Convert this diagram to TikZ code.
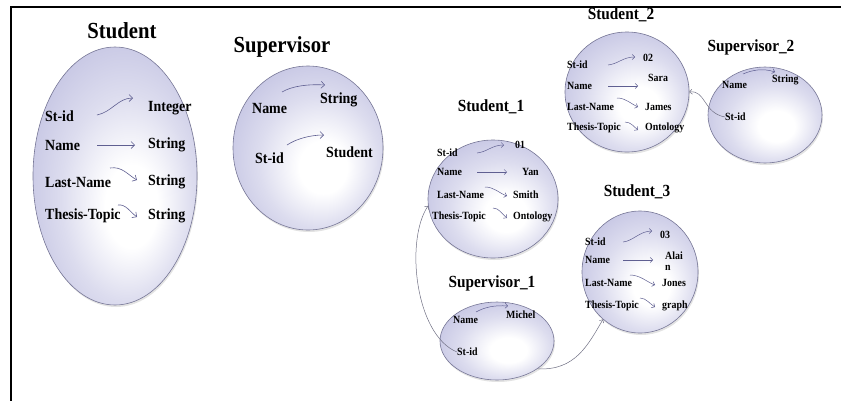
\documentclass[tikz,border=0pt]{standalone}
\usepackage{fontspec}
\setmainfont{Liberation Serif}[FakeStretch=0.9]
\usetikzlibrary{shapes.geometric,arrows.meta,shadows}
\definecolor{ellfill}{RGB}{186,186,222}
\definecolor{ellline}{RGB}{118,118,150}
\definecolor{arrcol}{RGB}{95,95,145}
\definecolor{linkcol}{RGB}{110,110,130}
\pgfdeclareradialshading{entshade}{\pgfpoint{6bp}{-7bp}}{%
  color(0bp)=(white); color(8bp)=(white); color(20bp)=(white!50!ellfill);
  color(36bp)=(ellfill); color(50bp)=(ellfill)}
\begin{document}
\begin{tikzpicture}[x=1pt,y=-1pt,
 ent/.style={ellipse, draw=ellline, line width=0.6pt, shading=entshade,
   drop shadow={opacity=0.22,shadow xshift=1pt,shadow yshift=-2pt}, inner sep=0pt},
 ttl/.style={inner sep=0pt, font=\bfseries\fontsize{23}{25}\selectfont},
 sttl/.style={inner sep=0pt, font=\bfseries\fontsize{17}{19}\selectfont},
 lbl/.style={anchor=west, inner sep=0pt, font=\bfseries\fontsize{15.5}{17}\selectfont},
 slbl/.style={anchor=west, inner sep=0pt, font=\bfseries\fontsize{11}{11.5}\selectfont},
 arr/.style={draw=arrcol, line width=0.6pt, -{Straight Barb[length=3.5pt,width=7pt]}},
 sarr/.style={draw=arrcol, line width=0.5pt, -{Straight Barb[length=2.5pt,width=5pt]}},
 link/.style={draw=linkcol, line width=0.5pt, -{Straight Barb[length=2.5pt,width=5pt]}}
]
\useasboundingbox (0,0) rectangle (841,400);
\draw[line width=2.5pt] (11,401) -- (11,7) -- (842,7);

% ---------- Student ----------
\node[ent, minimum width=164pt, minimum height=258pt] (stu) at (115,176) {};
\node[ttl] (stuT) at (122,31) {Student};
\node[lbl] (stuA1) at (45,116) {St-id};
\node[lbl] (stuV1) at (148,108) {Integer};
\node[lbl] (stuA2) at (45,145) {Name};
\node[lbl] (stuV2) at (148,145) {String};
\node[lbl] (stuA3) at (45,182) {Last-Name};
\node[lbl] (stuV3) at (148,182) {String};
\node[lbl] (stuA4) at (45,216) {Thesis-Topic};
\node[lbl] (stuV4) at (148,216) {String};
\draw[arr] (97,115) .. controls (112,112) and (118,98) .. (133,98);
\draw[arr] (97,145) -- (135,145);
\draw[arr] (110,168) .. controls (122,166) and (128,175) .. (137,180);
\draw[arr] (118,205) .. controls (126,204) and (130,212) .. (137,217);

% ---------- Supervisor ----------
\node[ent, minimum width=150pt, minimum height=164pt] (sup) at (308,148) {};
\node[ttl] (supT) at (282,47) {Supervisor};
\node[lbl] (supA1) at (252,108) {Name};
\node[lbl] (supV1) at (320,100) {String};
\node[lbl] (supA2) at (255,158) {St-id};
\node[lbl] (supV2) at (326,152) {Student};
\draw[arr] (282,92) .. controls (292,86) and (308,84) .. (325,85);
\draw[arr] (287,145) .. controls (296,139) and (310,135) .. (324,135);

% ---------- Student_1 ----------
\node[ent, minimum width=130pt, minimum height=118pt] (st1) at (493,199) {};
\node[sttl] (st1T) at (491,107) {Student\_1};
\node[slbl] (st1A1) at (437,153) {St-id};
\node[slbl] (st1V1) at (515,145) {01};
\node[slbl] (st1A2) at (437,172) {Name};
\node[slbl] (st1V2) at (522,172) {Yan};
\node[slbl] (st1A3) at (437,195) {Last-Name};
\node[slbl] (st1V3) at (513,195) {Smith};
\node[slbl] (st1A4) at (432,217) {Thesis-Topic};
\node[slbl] (st1V4) at (513,217) {Ontology};
\draw[sarr] (477,153) .. controls (487,152) and (492,145) .. (504,145);
\draw[sarr] (477,172) -- (507,172);
\draw[sarr] (485,187) .. controls (494,187) and (499,193) .. (507,196);
\draw[sarr] (493,208) .. controls (499,208) and (502,214) .. (507,218);

% ---------- Student_2 ----------
\node[ent, minimum width=124pt, minimum height=120pt] (st2) at (627,92) {};
\node[sttl] (st2T) at (621,15) {Student\_2};
\node[slbl] (st2A1) at (567,65) {St-id};
\node[slbl] (st2V1) at (643,58) {02};
\node[slbl] (st2A2) at (567,86) {Name};
\node[slbl] (st2V2) at (648,78) {Sara};
\node[slbl] (st2A3) at (567,107) {Last-Name};
\node[slbl] (st2V3) at (645,107) {James};
\node[slbl] (st2A4) at (567,128) {Thesis-Topic};
\node[slbl] (st2V4) at (645,128) {Ontology};
\draw[sarr] (608,65) .. controls (618,64) and (623,57) .. (635,57);
\draw[sarr] (608,86) -- (638,86);
\draw[sarr] (617,98) .. controls (626,98) and (631,104) .. (638,107);
\draw[sarr] (625,122) .. controls (631,122) and (634,127) .. (638,130);

% ---------- Supervisor_2 ----------
\node[ent, minimum width=114pt, minimum height=96pt] (sv2) at (765,115) {};
\node[sttl] (sv2T) at (751,47) {Supervisor\_2};
\node[slbl] (sv2A1) at (722,85) {Name};
\node[slbl] (sv2V1) at (772,80) {String};
\node[slbl] (sv2A2) at (725,117) {St-id};
\draw[sarr] (743,74) .. controls (752,70) and (763,68) .. (775,72);
\draw[link] (sv2A2.west) .. controls (703,113) and (706,90) .. (st2.east);

% ---------- Student_3 ----------
\node[ent, minimum width=116pt, minimum height=122pt] (st3) at (640,272) {};
\node[sttl] (st3T) at (637,192) {Student\_3};
\node[slbl] (st3A1) at (585,242) {St-id};
\node[slbl] (st3V1) at (660,235) {03};
\node[slbl] (st3A2) at (585,260) {Name};
\node[slbl, align=left] (st3V2) at (665,261) {Alai\\[-1pt]n};
\node[slbl] (st3A3) at (585,283) {Last-Name};
\node[slbl] (st3V3) at (662,283) {Jones};
\node[slbl] (st3A4) at (585,306) {Thesis-Topic};
\node[slbl] (st3V4) at (662,306) {graph};
\draw[sarr] (623,242) .. controls (633,241) and (640,231) .. (652,231);
\draw[sarr] (623,260) -- (653,260);
\draw[sarr] (630,275) .. controls (640,275) and (647,282) .. (655,285);
\draw[sarr] (640,298) .. controls (646,298) and (650,304) .. (655,307);

% ---------- Supervisor_1 ----------
\node[ent, minimum width=114pt, minimum height=78pt] (sv1) at (497,341) {};
\node[sttl] (sv1T) at (492,283) {Supervisor\_1};
\node[slbl] (sv1A1) at (453,320) {Name};
\node[slbl] (sv1V1) at (506,315) {Michel};
\node[slbl] (sv1A2) at (457,352) {St-id};
\draw[sarr] (476,312) .. controls (485,307) and (495,305) .. (508,306);

% ---------- links ----------
\draw[link] (sv1A2.west) .. controls (415,335) and (405,240) .. (st1.186);
\draw[link] (sv1.south east) .. controls (575,371) and (588,345) .. (st3.232);
\end{tikzpicture}
\end{document}
